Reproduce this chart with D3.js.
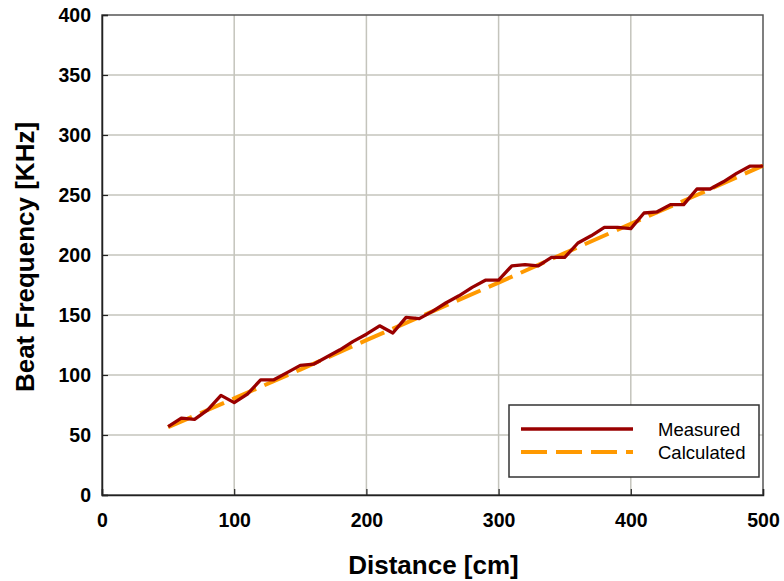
<!DOCTYPE html>
<html>
<head>
<meta charset="utf-8">
<script src="https://cdnjs.cloudflare.com/ajax/libs/d3/7.8.5/d3.min.js"></script>
<style>
  body { margin: 0; background: #fff; }
  text { font-family: "Liberation Sans", Arial, sans-serif; }
</style>
</head>
<body>
<script>
// measured beat frequency vs distance
var distances = [50,60,70,80,90,100,110,120,130,140,150,160,170,180,190,200,210,220,230,240,
                 250,260,270,280,290,300,310,320,330,340,350,360,370,380,390,400,410,420,430,440,
                 450,460,470,480,490,500];
var measured  = [57,64,63,71,83,77,84,96,96,102,108,109,115,121,128,134,141,135,148,147,
                 153,160,166,173,179,179,191,192,191,198,198,210,216,223,223,222,235,236,242,242,
                 255,255,261,268,274,274];
// calculated (theory) line
var calcDist = [50,100,150,200,250,300,350,400,450,500];
var calculated = [56.5,80.5,104.5,129,153,177,201.5,226,250,274.5];

var xTicks = [0,100,200,300,400,500];
var yTicks = [0,50,100,150,200,250,300,350,400];

var width = 784, height = 581;
var margin = {top: 15, right: 21, bottom: 86, left: 102};
var w = width - margin.left - margin.right,
    h = height - margin.top - margin.bottom;

var svg = d3.select("body").append("svg")
    .attr("width", width)
    .attr("height", height);

var g = svg.append("g")
    .attr("transform", "translate(" + margin.left + "," + margin.top + ")");

var x = d3.scaleLinear().domain([0, 500]).range([0, w]);
var y = d3.scaleLinear().domain([0, 400]).range([h, 0]);

// grid
g.append("g").selectAll("line.vg")
  .data(xTicks.slice(1, -1)).enter().append("line")
  .attr("x1", function(d){ return x(d); }).attr("x2", function(d){ return x(d); })
  .attr("y1", 0).attr("y2", h)
  .attr("stroke", "#c4c4bc").attr("stroke-width", 1.5);
g.append("g").selectAll("line.hg")
  .data(yTicks.slice(1, -1)).enter().append("line")
  .attr("x1", 0).attr("x2", w)
  .attr("y1", function(d){ return y(d); }).attr("y2", function(d){ return y(d); })
  .attr("stroke", "#c4c4bc").attr("stroke-width", 1.5);

// frame
g.append("rect").attr("width", w).attr("height", h)
  .attr("fill", "none").attr("stroke", "#555").attr("stroke-width", 1.5);

// axes
var xAxis = g.append("g")
  .attr("transform", "translate(0," + h + ")")
  .call(d3.axisBottom(x).tickValues(xTicks).tickSize(-6).tickPadding(18));
var yAxis = g.append("g")
  .call(d3.axisLeft(y).tickValues(yTicks).tickSize(-6).tickPadding(11));

[xAxis, yAxis].forEach(function(a){
  a.select(".domain").attr("stroke", "#222").attr("stroke-width", 1.5);
  a.selectAll(".tick line").attr("stroke", "#222").attr("stroke-width", 1.2);
  a.selectAll("text").attr("font-size", "19.5px").attr("font-weight", "bold")
    .attr("fill", "#000")
    .style("font-family", '"Liberation Sans", Arial, sans-serif');
});

// lines
var lineMeas = d3.line()
  .x(function(d, i){ return x(distances[i]); })
  .y(function(d){ return y(d); });
var lineCalc = d3.line()
  .x(function(d, i){ return x(calcDist[i]); })
  .y(function(d){ return y(d); });

g.append("path").datum(calculated)
  .attr("d", lineCalc)
  .attr("fill", "none").attr("stroke", "#ff9900")
  .attr("stroke-width", 4).attr("stroke-dasharray", "26,9");

g.append("path").datum(measured)
  .attr("d", lineMeas)
  .attr("fill", "none").attr("stroke", "#990000")
  .attr("stroke-width", 3.3).attr("stroke-linejoin", "round");

// legend
var lg = svg.append("g").attr("transform", "translate(509,405)");
lg.append("rect").attr("width", 250).attr("height", 72)
  .attr("fill", "#fff").attr("stroke", "#333").attr("stroke-width", 1.5);
lg.append("line").attr("x1", 12).attr("x2", 124).attr("y1", 24).attr("y2", 24)
  .attr("stroke", "#990000").attr("stroke-width", 3.3);
lg.append("line").attr("x1", 12).attr("x2", 124).attr("y1", 47).attr("y2", 47)
  .attr("stroke", "#ff9900").attr("stroke-width", 4).attr("stroke-dasharray", "26,9");
lg.append("text").attr("x", 149).attr("y", 31).attr("font-size", "18.5px").text("Measured");
lg.append("text").attr("x", 149).attr("y", 54).attr("font-size", "18.5px").text("Calculated");

// axis titles
svg.append("text")
  .attr("x", margin.left + w / 2 + 1).attr("y", 574)
  .attr("text-anchor", "middle").attr("font-size", "26px").attr("font-weight", "bold")
  .text("Distance [cm]");
svg.append("text")
  .attr("transform", "translate(34," + (margin.top + h / 2 + 2) + ") rotate(-90)")
  .attr("text-anchor", "middle").attr("font-size", "26px").attr("font-weight", "bold")
  .text("Beat Frequency [KHz]");
</script>
</body>
</html>
